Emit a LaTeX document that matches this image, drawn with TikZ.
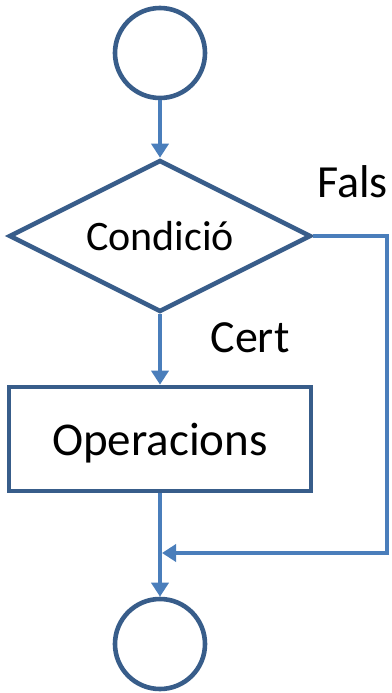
\documentclass[tikz,border=0pt]{standalone}
\usepackage{fontspec}
\setmainfont{Carlito}
\usetikzlibrary{shapes.geometric,arrows.meta}
\definecolor{shapeblue}{RGB}{56,93,138}
\definecolor{lineblue}{RGB}{74,126,187}
\tikzset{
  terminal/.style={circle, draw=shapeblue, line width=4.6pt, minimum size=90pt, inner sep=0pt},
  decision/.style={diamond, draw=shapeblue, line width=4.6pt, aspect=2, minimum width=302pt, minimum height=152pt, inner sep=0pt, font=\fontsize{42}{50}\selectfont},
  process/.style={rectangle, draw=shapeblue, line width=4.6pt, minimum width=302pt, minimum height=104pt, text depth=0pt, font=\fontsize{47}{56}\selectfont},
  flow/.style={draw=lineblue, line width=4pt, -{Triangle[length=14pt,width=17pt]}},
  branch/.style={font=\fontsize{46}{55}\selectfont, anchor=base}
}

\begin{document}
\begin{tikzpicture}[x=1pt,y=-1pt]
        \useasboundingbox (0,0) rectangle (391,693);
        \node[terminal] (start) at (160,53) {};
        \node[decision] (cond) at (160,236) {Condició};
        \node[process] (ops) at (160,439) {Operacions};
        \node[terminal] (stop) at (160,644) {};
        \node[branch] (fals) at (352.5,197) {Fals};
        \node[branch] (cert) at (250,352) {Cert};
        \coordinate (turn) at (387,553);
        \coordinate (join) at (162,553);
        \draw[flow] (start) -- (cond.north);
        \draw[flow] (cond.south) -- (ops.north);
        \draw[flow] (ops.south) -- (stop.north);
        \draw[flow] (cond.east) -| (turn) -- (join);
    \end{tikzpicture}
\end{document}
